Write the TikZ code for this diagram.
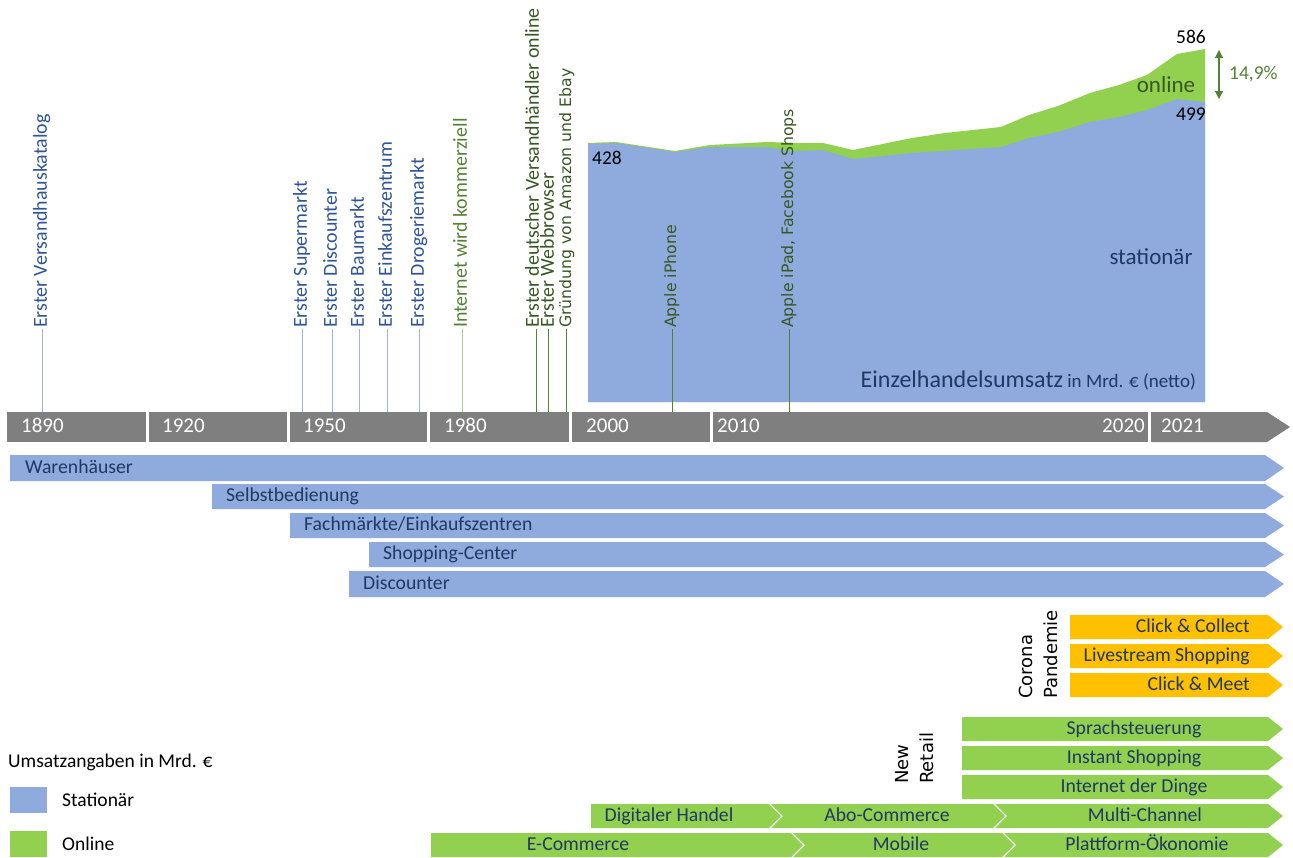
\documentclass[tikz,border=0pt]{standalone}
\usepackage{fontspec}
\setmainfont{Carlito}
\newfontfamily\widefont{DejaVu Sans}
\usetikzlibrary{arrows.meta}
\definecolor{cblue}{HTML}{8FAADC}
\definecolor{cgreen}{HTML}{92D050}
\definecolor{corange}{HTML}{FFC000}
\definecolor{cgray}{HTML}{7F7F7F}
\definecolor{navy}{HTML}{203864}
\definecolor{evblue}{HTML}{2F5597}
\definecolor{evgreen}{HTML}{548235}
\definecolor{dkgreen}{HTML}{385723}
\definecolor{lnblue}{HTML}{9DB5E0}
\definecolor{lngreen}{HTML}{A9D18E}
\begin{document}
\begin{tikzpicture}[x=1pt,y=-1pt,
  lbl/.style={font=\fontsize{19.7}{22}\selectfont, text=navy, inner sep=0pt, text height=13.4pt, text depth=2.5pt},
  yr/.style={font=\fontsize{21}{24}\selectfont, text=white, inner sep=0pt, anchor=west, text height=14.3pt, text depth=2.7pt},
  ev/.style={rotate=90, anchor=west, inner sep=1pt, font=\fontsize{19.9}{22}\selectfont, text height=13.5pt, text depth=4pt},
  evw/.style={rotate=90, anchor=west, inner sep=1pt, font=\widefont\fontsize{15.7}{18}\selectfont, text height=11.5pt, text depth=3.5pt},
  grp/.style={rotate=90, anchor=west, inner sep=0pt, align=left, font=\widefont\fontsize{18}{25}\selectfont},
  lg/.style={font=\fontsize{19.5}{22}\selectfont, inner sep=0pt, anchor=west, text height=13.3pt, text depth=2.5pt}]
\useasboundingbox (0,0) rectangle (1293,857);
\fill[white] (0,0) rectangle (1293,857);

% ---------- chart ----------
\fill[cgreen] (588,402) -- (588,143) -- (616,142) -- (675,151) -- (710,145) -- (767,142) -- (800,143) -- (823,143) -- (853,150) -- (912,138) -- (945,133) -- (1001,127) -- (1029,115) -- (1058,106) -- (1090,93) -- (1119,85) -- (1147,75) -- (1177,54) -- (1205,49) -- (1205,402) -- cycle;
\fill[cblue] (588,402) -- (588,144) -- (616,143) -- (675,152) -- (710,147) -- (767,147) -- (790,151) -- (823,150) -- (853,159) -- (912,153) -- (1001,147) -- (1029,138) -- (1058,132) -- (1090,122) -- (1119,117) -- (1147,110) -- (1177,99) -- (1205,102) -- (1205,402) -- cycle;
\node[lg, text=black] (v428) at (592,159) {428};
\node[lg, text=black, anchor=center] (v586) at (1191,38) {586};
\node[lg, text=black, anchor=center] (v499) at (1191,115) {499};
\node[font=\fontsize{23}{26}\selectfont, text=dkgreen, inner sep=0pt, text height=15.6pt, text depth=3pt] (onl) at (1166,86) {online};
\node[font=\fontsize{23}{26}\selectfont, text=navy, inner sep=0pt, text height=15.6pt, text depth=3pt] (stat) at (1151,258) {stationär};
\node[text=navy, inner sep=0pt, anchor=east, text height=16pt, text depth=3pt] (ezh) at (1196,381) {\fontsize{24}{26}\selectfont Einzelhandelsumsatz\fontsize{19}{22}\selectfont{} in Mrd. € (netto)};
\coordinate (atop) at (1219,50);
\coordinate (abot) at (1219,99);
\draw[evgreen, line width=1.2pt, {Triangle[width=8pt,length=8pt]}-{Triangle[width=8pt,length=8pt]}] (atop) -- (abot);
\node[lg, text=evgreen] (pct) at (1229,74) {14,9\%};

% ---------- timeline ----------
\fill[cgray] (7,412) rectangle (146,442);
\fill[cgray] (149,412) rectangle (287,442);
\fill[cgray] (290,412) rectangle (427,442);
\fill[cgray] (430,412) rectangle (569,442);
\fill[cgray] (572,412) rectangle (710,442);
\fill[cgray] (713,412) rectangle (1148,442);
\fill[cgray] (1151,412) -- (1267,412) -- (1290,427) -- (1267,442) -- (1151,442) -- cycle;
\node[yr] (y1890) at (21,427) {1890};
\node[yr] (y1920) at (162,427) {1920};
\node[yr] (y1950) at (303,427) {1950};
\node[yr] (y1980) at (444,427) {1980};
\node[yr] (y2000) at (586,427) {2000};
\node[yr] (y2010) at (717,427) {2010};
\node[yr, anchor=east] (y2020) at (1145,427) {2020};
\node[yr] (y2021) at (1161,427) {2021};

% ---------- events ----------
\node[ev, text=evblue] (e1) at (42,329) {Erster Versandhauskatalog};
\node[ev, text=evblue] (e2) at (302,329) {Erster Supermarkt};
\node[ev, text=evblue] (e3) at (332,329) {Erster Discounter};
\node[ev, text=evblue] (e4) at (359,329) {Erster Baumarkt};
\node[ev, text=evblue] (e5) at (387,329) {Erster Einkaufszentrum};
\node[ev, text=evblue] (e6) at (419,329) {Erster Drogeriemarkt};
\node[ev, text=evgreen] (e7) at (462,329) {Internet wird kommerziell};
\node[ev, text=dkgreen] (e8) at (534,329) {Erster deutscher Versandhändler online};
\node[ev, text=dkgreen] (e9) at (549,329) {Erster Webbrowser};
\node[evw, text=dkgreen] (e10) at (567,329) {Gründung von Amazon und Ebay};
\node[evw, text=dkgreen] (e11) at (672,329) {Apple iPhone};
\node[evw, text=dkgreen] (e12) at (789,329) {Apple iPad, Facebook Shops};
\foreach \i/\x in {1/42,2/302,3/332,4/359,5/387,6/419,7/462,8/536,9/548,10/566,11/672,12/789}{
  \coordinate (t\i) at (\x,412);
}
\foreach \i in {1,...,6}{ \draw[lnblue, line width=0.8pt] (e\i.west) -- (t\i); }
\draw[lngreen, line width=0.8pt] (e7.west) -- (t7);
\foreach \i in {8,...,12}{ \draw[evgreen, line width=0.8pt] (e\i.west -| t\i) -- (t\i); }

% ---------- blue bars ----------
\fill[cblue] (10,455) -- (1265,455) -- (1284,468) -- (1265,481) -- (10,481) -- cycle;
\fill[cblue] (212,484) -- (1265,484) -- (1284,496.5) -- (1265,509) -- (212,509) -- cycle;
\fill[cblue] (290,513) -- (1265,513) -- (1284,525.5) -- (1265,538) -- (290,538) -- cycle;
\fill[cblue] (369,542) -- (1265,542) -- (1284,554.5) -- (1265,567) -- (369,567) -- cycle;
\fill[cblue] (349,571) -- (1265,571) -- (1284,584) -- (1265,597) -- (349,597) -- cycle;
\node[lbl, anchor=west] (b1) at (25,468) {Warenhäuser};
\node[lbl, anchor=west] (b2) at (226,496.5) {Selbstbedienung};
\node[lbl, anchor=west] (b3) at (304,525.5) {Fachmärkte/Einkaufszentren};
\node[lbl, anchor=west] (b4) at (383,554.5) {Shopping-Center};
\node[lbl, anchor=west] (b5) at (363,584) {Discounter};

% ---------- corona ----------
\fill[corange] (1070,615) -- (1268,615) -- (1283,627) -- (1268,639) -- (1070,639) -- cycle;
\fill[corange] (1070,644) -- (1268,644) -- (1283,656) -- (1268,668) -- (1070,668) -- cycle;
\fill[corange] (1070,673) -- (1268,673) -- (1283,685) -- (1268,697) -- (1070,697) -- cycle;
\node[lbl, anchor=east] (o1) at (1250,627) {Click \& Collect};
\node[lbl, anchor=east] (o2) at (1250,656) {Livestream Shopping};
\node[lbl, anchor=east] (o3) at (1250,685) {Click \& Meet};
\node[grp] (corona) at (1038,699) {Corona\\Pandemie};

% ---------- new retail ----------
\fill[cgreen] (962,717) -- (1268,717) -- (1283,729) -- (1268,741) -- (962,741) -- cycle;
\fill[cgreen] (962,746) -- (1268,746) -- (1283,758) -- (1268,770) -- (962,770) -- cycle;
\fill[cgreen] (962,775) -- (1268,775) -- (1283,787) -- (1268,799) -- (962,799) -- cycle;
\node[lbl] (n1) at (1134,729) {Sprachsteuerung};
\node[lbl] (n2) at (1134,758) {Instant Shopping};
\node[lbl] (n3) at (1134,787) {Internet der Dinge};
\node[grp] (newr) at (915,784) {New\\Retail};

% ---------- chevron rows ----------
\fill[cgreen] (591,804) -- (769,804) -- (781,816) -- (769,828) -- (591,828) -- cycle;
\fill[cgreen] (771,804) -- (993,804) -- (1005,816) -- (993,828) -- (771,828) -- (783,816) -- cycle;
\fill[cgreen] (995,804) -- (1268,804) -- (1283,816) -- (1268,828) -- (995,828) -- (1007,816) -- cycle;
\node[lbl] (c1) at (669,816) {Digitaler Handel};
\node[lbl] (c2) at (887,816) {Abo-Commerce};
\node[lbl] (c3) at (1145,816) {Multi-Channel};
\fill[cgreen] (431,833) -- (791,833) -- (803,845) -- (791,857) -- (431,857) -- cycle;
\fill[cgreen] (793,833) -- (1002,833) -- (1014,845) -- (1002,857) -- (793,857) -- (805,845) -- cycle;
\fill[cgreen] (1004,833) -- (1268,833) -- (1283,845) -- (1268,857) -- (1004,857) -- (1016,845) -- cycle;
\node[lbl] (d1) at (578,845) {E-Commerce};
\node[lbl] (d2) at (901,845) {Mobile};
\node[lbl] (d3) at (1147,845) {Plattform-Ökonomie};

% ---------- legend ----------
\node[lg] (lgt) at (8,762) {Umsatzangaben in Mrd. €};
\fill[cblue] (10,787) rectangle (47,813);
\node[lg] (lg1) at (62,801) {Stationär};
\fill[cgreen] (10,831) rectangle (47,857);
\node[lg] (lg2) at (62,845) {Online};
\end{tikzpicture}
\end{document}
